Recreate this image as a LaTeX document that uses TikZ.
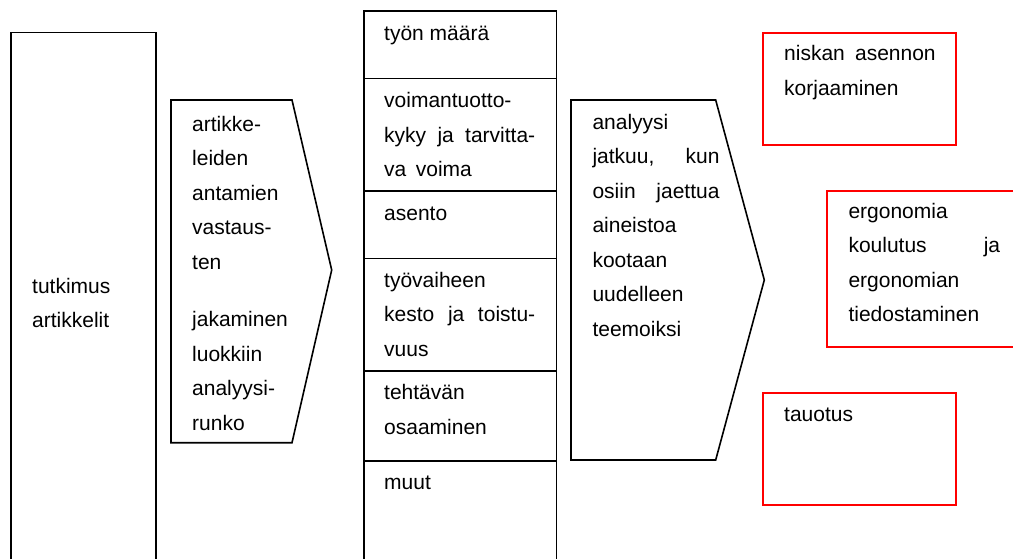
\documentclass[tikz,border=0pt]{standalone}
\usepackage{fontspec}
\setmainfont{Liberation Sans}
\newcommand\txtlines[1]{\begin{tabular}[t]{@{}l@{}}#1\end{tabular}}
\newcommand\jline[2]{\makebox[#1][s]{#2}}
\definecolor{boxred}{RGB}{255,0,0}
\tikzset{
  frame/.style={draw=black, line width=1.6pt},
  redbox/.style={draw=boxred, line width=2pt},
  cell/.style={frame, rectangle, anchor=north west, inner sep=0pt,
               minimum width=192.4pt},
  txt/.style={anchor=base west, inner sep=0pt,
              font=\fontsize{21}{34.5}\selectfont},
}
\begin{document}
\begin{tikzpicture}[x=1pt, y=-1pt]
\clip (0,0) rectangle (1013,558);
\fill[white] (0,0) rectangle (1013,558);

% source material column
\draw[frame] (11,32.5) rectangle (155.7,580);
\node[txt] (src) at (32,293) {\txtlines{tutkimus\\artikkelit}};

% first processing step
\draw[frame] (171,100) -- (292,100) -- (331.7,270) -- (292,442.7)
  -- (171,442.7) -- cycle;
\node[txt] (step1) at (192,131) {\txtlines{artikke-\\leiden\\antamien\\vastaus-\\ten\\[23pt]jakaminen\\luokkiin\\analyysi-\\runko}};

% analysis frame categories
\node[cell, minimum height=67.7pt]  (c1) at (363.3,10)    {};
\node[cell, minimum height=112.6pt] (c2) at (363.3,77.7)  {};
\node[cell, minimum height=67.4pt]  (c3) at (363.3,190.3) {};
\node[cell, minimum height=112.3pt] (c4) at (363.3,257.7) {};
\node[cell, minimum height=90pt]    (c5) at (363.3,370)   {};
\node[cell, minimum height=130pt]   (c6) at (363.3,460)   {};

\node[txt] (t1) at (384,40)    {työn määrä};
\node[txt] (t2) at (384,107.5) {\txtlines{voimantuotto-\\\jline{151pt}{kyky ja tarvitta-}\\va\hspace{9.5pt}voima}};
\node[txt] (t3) at (384,220.5) {asento};
\node[txt] (t4) at (384,287)   {\txtlines{työvaiheen\\\jline{151pt}{kesto ja toistu-}\\vuus}};
\node[txt] (t5) at (384,399.5) {\txtlines{tehtävän\\osaaminen}};
\node[txt] (t6) at (384,489.5) {muut};

% second processing step
\draw[frame] (571,100) -- (715.7,100) -- (764.3,280) -- (715.7,460)
  -- (571,460) -- cycle;
\node[txt] (step2) at (592.3,129) {\txtlines{analyysi\\\jline{127pt}{jatkuu, kun}\\\jline{127pt}{osiin jaettua}\\aineistoa\\kootaan\\uudelleen\\teemoiksi}};

% resulting themes
\draw[redbox] (763.3,32.7) rectangle (955.7,145);
\node[txt] (th1) at (784,60.5) {\txtlines{\jline{151.5pt}{niskan asennon}\\korjaaminen}};

\draw[redbox] (827.3,190.7) rectangle (1030,347.3);
\node[txt] (th2) at (848.3,218) {\txtlines{ergonomia\\\jline{151.7pt}{koulutus ja}\\ergonomian\\tiedostaminen}};

\draw[redbox] (763.3,392.7) rectangle (955.7,505);
\node[txt] (th3) at (784,421) {tauotus};
\end{tikzpicture}
\end{document}
